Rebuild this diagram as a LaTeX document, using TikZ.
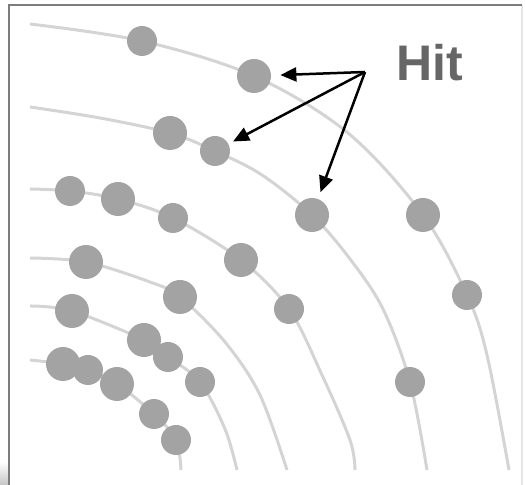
\documentclass[tikz,border=0pt]{standalone}
\usepackage{fontspec}
\setmainfont{Liberation Sans}
\usetikzlibrary{arrows.meta}

\definecolor{dotgray}{HTML}{A3A3A3}
\definecolor{ringgray}{HTML}{D4D4D4}
\definecolor{framedark}{HTML}{7C7C7C}
\definecolor{framelight}{HTML}{E6E6E6}
\definecolor{labelgray}{HTML}{666666}

\begin{document}
\begin{tikzpicture}[x=0.5pt,y=-0.5pt,
  ring/.style={draw=ringgray,line width=1.5pt},
  dotbig/.style={circle,fill=dotgray,inner sep=0pt,minimum size=17pt},
  dotsmall/.style={circle,fill=dotgray,inner sep=0pt,minimum size=15pt},
  hitarrow/.style={-{Triangle[length=8pt,width=7pt]},line width=1.25pt}
]
\useasboundingbox (0,0) rectangle (525,485);

% frame
\shade[top color=white,bottom color=gray!45] (0,462) rectangle (9,485);
\draw[framelight,line width=1pt] (522,5) -- (522,485);
\draw[framedark,line width=1pt] (9,485) -- (9,5) -- (522,5);

% concentric rings
\draw[ring] plot[smooth,tension=0.55] coordinates
  {(30,24) (142,41) (254,76) (348,133) (423,215) (467,295) (487,355) (509,470)};
\draw[ring] plot[smooth,tension=0.55] coordinates
  {(30,107) (100,118) (170,133) (215,151) (262,175) (312,215) (350,259) (383,309) (410,382) (427,470)};
\draw[ring] plot[smooth,tension=0.55] coordinates
  {(30,189) (70,191) (118,199) (173,218) (241,260) (289,309) (322,375) (350,440) (355,470)};
\draw[ring] plot[smooth,tension=0.55] coordinates
  {(30,258) (86,262) (150,282) (180,297) (225,342) (260,395) (287,470)};
\draw[ring] plot[smooth,tension=0.55] coordinates
  {(30,306) (72,311) (144,340) (168,357) (200,382) (225,429) (237,470)};
\draw[ring] plot[smooth,tension=0.55] coordinates
  {(30,360) (63,364) (88,370) (117,384) (154,414) (176,440) (181,470)};

% dots, ring 1
\node[dotsmall] (a1) at (142,41) {};
\node[dotbig]   (a2) at (254,76) {};
\node[dotbig]   (a3) at (423,215) {};
\node[dotsmall] (a4) at (467,295) {};
% ring 2
\node[dotbig]   (b1) at (170,133) {};
\node[dotsmall] (b2) at (215,151) {};
\node[dotbig]   (b3) at (312,215) {};
\node[dotsmall] (b4) at (410,382) {};
% ring 3
\node[dotsmall] (c1) at (70,191) {};
\node[dotbig]   (c2) at (118,199) {};
\node[dotsmall] (c3) at (173,218) {};
\node[dotbig]   (c4) at (241,260) {};
\node[dotsmall] (c5) at (289,309) {};
% ring 4
\node[dotbig]   (e1) at (86,262) {};
\node[dotbig]   (e2) at (180,297) {};
% ring 5
\node[dotbig]   (f1) at (72,311) {};
\node[dotbig]   (f2) at (144,340) {};
\node[dotsmall] (f3) at (168,357) {};
\node[dotsmall] (f4) at (200,382) {};
% ring 6
\node[dotbig]   (g1) at (63,364) {};
\node[dotsmall] (g2) at (88,370) {};
\node[dotbig]   (g3) at (117,384) {};
\node[dotsmall] (g4) at (154,414) {};
\node[dotsmall] (g5) at (176,440) {};

% label and arrows
\node[anchor=base west,inner sep=0pt,text=labelgray,
      font=\bfseries\fontsize{25pt}{30pt}\selectfont] (hit) at (396,81) {Hit};
\coordinate (hub) at (365,72);
\draw[hitarrow,shorten >=4.5pt] (hub) -- (a2);
\draw[hitarrow,shorten >=2.5pt] (hub) -- (b2);
\draw[hitarrow,shorten >=3.5pt] (hub) -- (b3);
\end{tikzpicture}
\end{document}
